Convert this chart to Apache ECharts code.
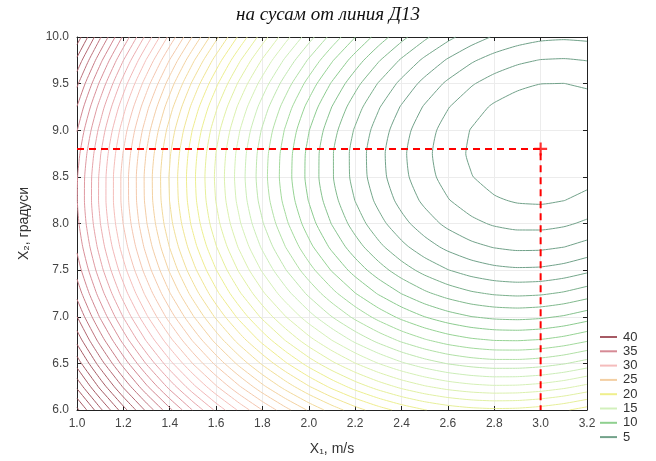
<!DOCTYPE html>
<html><head><meta charset="utf-8">
<script src="https://cdn.jsdelivr.net/npm/echarts@6/dist/echarts.min.js"></script>
<style>html,body{margin:0;padding:0;background:#fff}#c{width:656px;height:461px}</style>
</head><body><div id="c"></div>
<script>
const titleText = 'на сусам от линия Д13';
const xAxisName = 'X\u2081, m/s';
const yAxisName = 'X\u2082, градуси';
const x1Values = [1.0,1.1,1.2,1.3,1.4,1.5,1.6,1.7,1.8,1.9,2.0,2.1,2.2,2.3,2.4,2.5,2.6,2.7,2.8,2.9,3.0,3.1,3.2];
const x2Values = [6.0,6.25,6.5,6.75,7.0,7.25,7.5,7.75,8.0,8.25,8.5,8.75,9.0,9.25,9.5,9.75,10.0];
const zRow600 = [48.26,45.25,42.42,39.76,37.26,34.94,32.78,30.80,28.98,27.34,25.86,24.56,23.42,22.46,21.67,21.04,20.59,20.30,20.19,20.24,20.47,20.86,21.43];
const zRow625 = [45.78,42.74,39.88,37.18,34.66,32.30,30.12,28.11,26.26,24.59,23.08,21.75,20.58,19.59,18.76,18.11,17.62,17.31,17.16,17.19,17.39,17.75,18.29];
const zRow650 = [43.58,40.51,37.62,34.89,32.34,29.95,27.74,25.69,23.82,22.12,20.58,19.22,18.02,17.00,16.14,15.46,14.94,14.60,14.42,14.42,14.58,14.92,15.43];
const zRow675 = [41.66,38.56,35.64,32.88,30.30,27.88,25.64,23.56,21.66,19.93,18.36,16.97,15.74,14.69,13.80,13.09,12.54,12.17,11.96,11.93,12.06,12.37,12.85];
const zRow700 = [40.02,36.89,33.94,31.15,28.54,26.10,23.82,21.72,19.78,18.02,16.42,15.00,13.74,12.66,11.74,11.00,10.43,10.02,9.79,9.72,9.83,10.10,10.55];
const zRow725 = [38.66,35.51,32.52,29.71,27.06,24.59,22.28,20.15,18.18,16.39,14.77,13.31,12.03,10.91,9.97,9.19,8.59,8.15,7.89,7.79,7.87,8.12,8.53];
const zRow750 = [37.59,34.40,31.39,28.54,25.87,23.36,21.03,18.86,16.87,15.04,13.39,11.91,10.59,9.45,8.47,7.67,7.03,6.57,6.27,6.15,6.19,6.41,6.79];
const zRow775 = [36.79,33.58,30.53,27.66,24.95,22.42,20.05,17.86,15.83,13.98,12.29,10.78,9.44,8.26,7.26,6.42,5.76,5.26,4.94,4.78,4.80,4.98,5.34];
const zRow800 = [36.28,33.03,29.96,27.05,24.32,21.75,19.36,17.14,15.08,13.20,11.48,9.94,8.56,7.36,6.32,5.46,4.76,4.24,3.88,3.70,3.69,3.84,4.17];
const zRow825 = [36.05,32.77,29.67,26.73,23.97,21.37,18.95,16.69,14.61,12.69,10.95,9.38,7.97,6.74,5.67,4.78,4.05,3.50,3.11,2.90,2.85,2.98,3.27];
const zRow850 = [36.09,32.79,29.66,26.69,23.90,21.27,18.82,16.53,14.42,12.47,10.70,9.09,7.66,6.39,5.30,4.38,3.62,3.04,2.62,2.38,2.30,2.40,2.66];
const zRow875 = [36.42,33.09,29.93,26.93,24.11,21.45,18.97,16.65,14.51,12.53,10.73,9.09,7.63,6.33,5.21,4.26,3.47,2.86,2.41,2.14,2.03,2.10,2.33];
const zRow900 = [37.04,33.68,30.48,27.46,24.60,21.92,19.40,17.06,14.88,12.88,11.04,9.38,7.89,6.56,5.41,4.42,3.61,2.96,2.49,2.18,2.05,2.08,2.29];
const zRow925 = [37.97,34.57,31.35,28.29,25.41,22.69,20.15,17.77,15.57,13.53,11.67,9.98,8.45,7.10,5.91,4.90,4.05,3.38,2.87,2.54,2.37,2.38,2.55];
const zRow950 = [39.20,35.78,32.52,29.44,26.52,23.78,21.21,18.80,16.57,14.50,12.61,10.88,9.33,7.94,6.73,5.68,4.81,4.10,3.57,3.21,3.01,2.99,3.13];
const zRow975 = [40.75,37.30,34.01,30.90,27.95,25.18,22.58,20.14,17.88,15.78,13.86,12.10,10.52,9.10,7.86,6.78,5.88,5.14,4.58,4.19,3.96,3.91,4.02];
const zRow1000 = [42.61,39.13,35.82,32.67,29.70,26.89,24.26,21.79,19.50,17.37,15.42,13.63,12.02,10.57,9.30,8.20,7.26,6.50,5.90,5.48,5.22,5.14,5.22];
const contourLevels = [3,4,5,6,7,8,9,10,11,12,13,14,15,16,17,18,19,20,21,22,23,24,25,26,27,28,29,30,31,32,33,34,35,36,37,38,39,40,41,42,43,44,45,46,47,48];
const legendLevels = [40,35,30,25,20,15,10,5];
const legendColors = ['#a65a64','#d68a95','#f5bcbc','#f3cfa3','#efef8c','#d2f0bc','#8fd08f','#72a28a'];
const optimumX1 = 3.0;
const optimumX2 = 8.8;
const x1Ticks = ['1.0','1.2','1.4','1.6','1.8','2.0','2.2','2.4','2.6','2.8','3.0','3.2'];
const x2Ticks = ['6.0','6.5','7.0','7.5','8.0','8.5','9.0','9.5','10.0'];

const zGrid = [zRow600,zRow625,zRow650,zRow675,zRow700,zRow725,zRow750,zRow775,zRow800,zRow825,zRow850,zRow875,zRow900,zRow925,zRow950,zRow975,zRow1000];

function hexToRgb(h){return [parseInt(h.slice(1,3),16),parseInt(h.slice(3,5),16),parseInt(h.slice(5,7),16)];}
function levelColor(L){
  const stops = legendLevels.map((lv,k)=>[lv, hexToRgb(legendColors[k])]).sort((a,b)=>a[0]-b[0]);
  const v = L - 1.5;
  if (v <= stops[0][0]) return legendColors[legendColors.length-1];
  if (v >= stops[stops.length-1][0]) return legendColors[0];
  for (let k=0;k<stops.length-1;k++){
    const a=stops[k], b=stops[k+1];
    if (v>=a[0] && v<=b[0]){
      const t=(v-a[0])/(b[0]-a[0]);
      const c=a[1].map((q,m)=>Math.round(q+(b[1][m]-q)*t));
      return 'rgb('+c.join(',')+')';
    }
  }
  return '#888';
}

function buildContours(level){
  const nx=x1Values.length, ny=x2Values.length;
  const segs=[];
  const interp=(pa,va,pb,vb)=>{const t=(level-va)/(vb-va);return [pa[0]+t*(pb[0]-pa[0]), pa[1]+t*(pb[1]-pa[1])];};
  for(let j=0;j<ny-1;j++){
    for(let i=0;i<nx-1;i++){
      const v0=zGrid[j][i], v1=zGrid[j][i+1], v2=zGrid[j+1][i+1], v3=zGrid[j+1][i];
      const p0=[x1Values[i],x2Values[j]], p1=[x1Values[i+1],x2Values[j]], p2=[x1Values[i+1],x2Values[j+1]], p3=[x1Values[i],x2Values[j+1]];
      const edges=[
        ['h'+i+'_'+j,p0,v0,p1,v1],
        ['v'+(i+1)+'_'+j,p1,v1,p2,v2],
        ['h'+i+'_'+(j+1),p3,v3,p2,v2],
        ['v'+i+'_'+j,p0,v0,p3,v3]
      ];
      const hits=[];
      edges.forEach(e=>{const a=e[2]>=level, b=e[4]>=level; if(a!==b) hits.push({key:e[0], pt:interp(e[1],e[2],e[3],e[4])});});
      if(hits.length===2) segs.push([hits[0],hits[1]]);
      else if(hits.length===4){
        const c=(v0+v1+v2+v3)/4;
        if((v0>=level)===(c>=level)){segs.push([hits[0],hits[1]]);segs.push([hits[2],hits[3]]);}
        else {segs.push([hits[0],hits[3]]);segs.push([hits[1],hits[2]]);}
      }
    }
  }
  const map=new Map();
  segs.forEach((s,idx)=>s.forEach(h=>{if(!map.has(h.key))map.set(h.key,[]);map.get(h.key).push(idx);}));
  const used=new Array(segs.length).fill(false);
  const other=(sIdx,key)=>{const s=segs[sIdx];return s[0].key===key?s[1]:s[0];};
  const nextSeg=key=>{const list=map.get(key)||[];for(const k of list){if(!used[k])return k;}return -1;};
  const lines=[];
  for(let s=0;s<segs.length;s++){
    if(used[s])continue;
    used[s]=true;
    const pts=[segs[s][0],segs[s][1]];
    let end=segs[s][1];
    while(true){const n=nextSeg(end.key);if(n<0)break;used[n]=true;end=other(n,end.key);pts.push(end);}
    let start=segs[s][0];
    while(true){const n=nextSeg(start.key);if(n<0)break;used[n]=true;start=other(n,start.key);pts.unshift(start);}
    lines.push(pts.map(p=>p.pt));
  }
  return lines;
}

const series=[];
contourLevels.forEach(L=>{
  buildContours(L).forEach(pl=>{
    series.push({type:'line', xAxisIndex:0, yAxisIndex:0, data:pl, symbol:'none', smooth:0.2, silent:true, animation:false,
      lineStyle:{color:levelColor(L), width:1}, z:2});
  });
});
const xMin=parseFloat(x1Ticks[0]), xMax=parseFloat(x1Ticks[x1Ticks.length-1]);
const yMin=parseFloat(x2Ticks[0]), yMax=parseFloat(x2Ticks[x2Ticks.length-1]);
series.push({type:'line', data:[[xMin,optimumX2],[optimumX1,optimumX2],[optimumX1,yMin]], symbol:'none', silent:true, animation:false,
  lineStyle:{color:'#ff0000', width:2, type:[7,5]}, z:5});
series.push({type:'scatter', data:[[optimumX1,optimumX2]], symbol:'path://M0,5h12v2h-12zM5,0h2v12h-2z', symbolSize:13, silent:true, animation:false,
  itemStyle:{color:'#ff0000'}, z:6});

const axisFont='Liberation Sans, Arial, sans-serif';
const graphics=[];
legendLevels.forEach((lv,k)=>{
  const y=337+k*14.3;
  graphics.push({type:'line', shape:{x1:600,y1:y,x2:617,y2:y}, style:{stroke:legendColors[k], lineWidth:2}});
  graphics.push({type:'text', x:623, y:y, style:{text:String(lv), fill:'#333', font:'13px '+axisFont, verticalAlign:'middle', align:'left'}});
});

const chart=echarts.init(document.getElementById('c'));
chart.setOption({
  animation:false,
  backgroundColor:'#fff',
  title:{text:titleText, left:'center', top:0, textStyle:{fontFamily:'Liberation Serif, Times New Roman, serif', fontStyle:'italic', fontWeight:'normal', fontSize:19, color:'#111'}},
  grid:{left:77, right:69, top:37, bottom:50},
  xAxis:[
    {type:'value', min:xMin, max:xMax, interval:0.2,
     axisLine:{show:true, onZero:false, lineStyle:{color:'#222', width:1}},
     axisTick:{show:true, inside:true, length:4, lineStyle:{color:'#222'}},
     axisLabel:{formatter:v=>v.toFixed(1), color:'#444', fontSize:12, fontFamily:axisFont, margin:8},
     splitLine:{show:true, lineStyle:{color:'#ececec', width:1}},
     name:xAxisName, nameLocation:'middle', nameGap:32, nameTextStyle:{fontSize:14, color:'#333', fontFamily:axisFont}},
    {type:'value', position:'top', min:xMin, max:xMax, interval:0.2,
     axisLine:{show:true, onZero:false, lineStyle:{color:'#222', width:1}},
     axisTick:{show:true, inside:true, length:4, lineStyle:{color:'#222'}},
     axisLabel:{show:false}, splitLine:{show:false}}
  ],
  yAxis:[
    {type:'value', min:yMin, max:yMax, interval:0.5,
     axisLine:{show:true, onZero:false, lineStyle:{color:'#222', width:1}},
     axisTick:{show:true, inside:true, length:4, lineStyle:{color:'#222'}},
     axisLabel:{formatter:v=>v.toFixed(1), color:'#444', fontSize:12, fontFamily:axisFont, margin:8},
     splitLine:{show:true, lineStyle:{color:'#ececec', width:1}},
     name:yAxisName, nameLocation:'middle', nameGap:46, nameRotate:90, nameTextStyle:{fontSize:14, color:'#333', fontFamily:axisFont}},
    {type:'value', position:'right', min:yMin, max:yMax, interval:0.5,
     axisLine:{show:true, onZero:false, lineStyle:{color:'#222', width:1}},
     axisTick:{show:true, inside:true, length:4, lineStyle:{color:'#222'}},
     axisLabel:{show:false}, splitLine:{show:false}}
  ],
  series:series,
  graphic:graphics
});
</script>
</body></html>
